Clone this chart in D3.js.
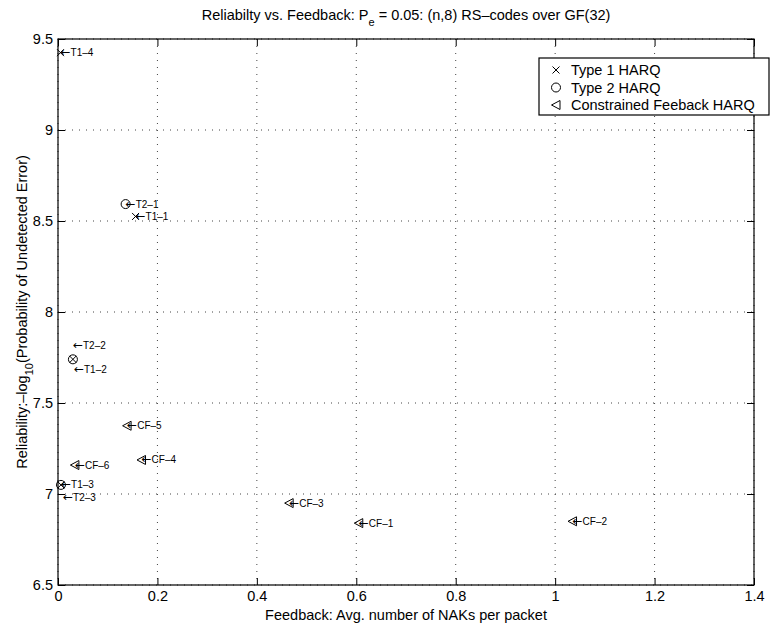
<!DOCTYPE html>
<html>
<head>
<meta charset="utf-8">
<script src="https://cdn.jsdelivr.net/npm/d3@7"></script>
<style>
  body { margin: 0; background: #fff; }
  svg text { font-family: "Liberation Sans", Arial, Helvetica, sans-serif; fill: #000; }
  .grid line { stroke: #444; stroke-dasharray: 1,6; }
  .axis path { display: none; }
  .axis line { stroke: #000; }
</style>
</head>
<body>
<div class="chart"></div>
<script>
// Type 1 HARQ
const t1Names = ["T1-1", "T1-2", "T1-3", "T1-4"];
const t1Feedback = [0.156, 0.030, 0.006, 0.005];
const t1Reliability = [8.525, 7.74, 7.05, 9.425];

// Type 2 HARQ
const t2Names = ["T2-1", "T2-2", "T2-3"];
const t2Feedback = [0.136, 0.030, 0.006];
const t2Reliability = [8.593, 7.74, 7.05];

// Constrained feedback HARQ
const cfNames = ["CF-1", "CF-2", "CF-3", "CF-4", "CF-5", "CF-6"];
const cfFeedback = [0.605, 1.035, 0.465, 0.168, 0.139, 0.034];
const cfReliability = [6.84, 6.85, 6.95, 7.187, 7.375, 7.159];

const xTicks = [0, 0.2, 0.4, 0.6, 0.8, 1, 1.2, 1.4];
const yTicks = [6.5, 7, 7.5, 8, 8.5, 9, 9.5];
const legendLabels = ["Type 1 HARQ", "Type 2 HARQ", "Constrained Feeback HARQ"];

// labels that were moved off their point (pixels)
const labelShift = {"T2-2": [0, -14], "T1-2": [1, 10], "T2-3": [2, 13]};

const margin = ({top: 39, right: 17, bottom: 48, left: 58});
const width = 771 - margin.left - margin.right,
      height = 633 - margin.top - margin.bottom;

const svg = d3.select(".chart")
    .append("svg")
    .attr("width", 771)
    .attr("height", 633);

const g = svg.append("g")
    .attr("transform", "translate(" + margin.left + "," + margin.top + ")");

const xScale = d3.scaleLinear().domain([0, 1.4]).range([0, width]);
const yScale = d3.scaleLinear().domain([6.5, 9.5]).range([height, 0]);

// dotted grid
g.append("g").attr("class", "grid")
    .selectAll("line").data(xTicks).enter().append("line")
    .attr("x1", d => xScale(d)).attr("x2", d => xScale(d))
    .attr("y1", 0).attr("y2", height);
g.append("g").attr("class", "grid")
    .selectAll("line").data(yTicks).enter().append("line")
    .attr("x1", 0).attr("x2", width)
    .attr("y1", d => yScale(d)).attr("y2", d => yScale(d));

// axes, ticks pointing inward on all four sides
const fmt = d => String(d);
g.append("g").attr("class", "axis x-axis")
    .attr("transform", `translate(0, ${height})`)
    .call(d3.axisBottom(xScale).tickValues(xTicks).tickFormat(fmt).tickSize(-7).tickPadding(6))
    .call(a => a.selectAll("text").attr("font-size", 14.5).attr("font-family", null));
g.append("g").attr("class", "axis")
    .call(d3.axisTop(xScale).tickValues(xTicks).tickFormat("").tickSize(-7));
g.append("g").attr("class", "axis y-axis")
    .call(d3.axisLeft(yScale).tickValues(yTicks).tickFormat(fmt).tickSize(-7).tickPadding(5))
    .call(a => a.selectAll("text").attr("font-size", 14.5).attr("font-family", null));
g.append("g").attr("class", "axis")
    .attr("transform", `translate(${width}, 0)`)
    .call(d3.axisRight(yScale).tickValues(yTicks).tickFormat("").tickSize(-7));

g.append("rect")
    .attr("width", width).attr("height", height)
    .attr("fill", "none").attr("stroke", "#000").attr("stroke-width", 1.2);

// markers
const markerPath = {
  x: "M-3.5,-3.5L3.5,3.5M-3.5,3.5L3.5,-3.5",
  o: "M4.5,0A4.5,4.5 0 1,1 -4.5,0A4.5,4.5 0 1,1 4.5,0Z",
  tri: "M-4.5,0L4,-4.5L4,4.5Z"
};

const series = [
  {key: "x", names: t1Names, xs: t1Feedback, ys: t1Reliability},
  {key: "o", names: t2Names, xs: t2Feedback, ys: t2Reliability},
  {key: "tri", names: cfNames, xs: cfFeedback, ys: cfReliability}
];

series.forEach(s => {
  const pts = s.names.map((n, i) => ({name: n, x: s.xs[i], y: s.ys[i]}));
  g.append("g").selectAll("path").data(pts).enter().append("path")
      .attr("d", markerPath[s.key])
      .attr("transform", d => `translate(${xScale(d.x)},${yScale(d.y)})`)
      .attr("fill", "none").attr("stroke", "#000").attr("stroke-width", 1);
  const lab = g.append("g").selectAll("text").data(pts).enter().append("text")
      .attr("x", d => xScale(d.x) + (labelShift[d.name] ? labelShift[d.name][0] : 0))
      .attr("y", d => yScale(d.y) + (labelShift[d.name] ? labelShift[d.name][1] : 0))
      .attr("dy", "0.35em")
      .attr("font-size", 10);
  lab.append("tspan").attr("font-size", 12).attr("font-family", "DejaVu Sans").text("\u2190");
  lab.append("tspan").text(d => d.name.replace(/-/g, "\u2013"));
});

// title
const title = svg.append("text")
    .attr("x", margin.left + width / 2).attr("y", 20)
    .attr("text-anchor", "middle").attr("font-size", 14.5);
title.append("tspan").text("Reliabilty vs. Feedback: P");
title.append("tspan").attr("font-size", 11).attr("dy", 6).text("e");
title.append("tspan").attr("dy", -6).text(" = 0.05: (n,8) RS\u2013codes over GF(32)");

// axis labels
svg.append("text")
    .attr("x", margin.left + width / 2).attr("y", 620)
    .attr("text-anchor", "middle").attr("font-size", 14.5)
    .text("Feedback: Avg. number of NAKs per packet");

const ylab = svg.append("text")
    .attr("transform", `translate(27, ${margin.top + height / 2}) rotate(-90)`)
    .attr("text-anchor", "middle").attr("font-size", 14.5);
ylab.append("tspan").text("Reliability:\u2013log");
ylab.append("tspan").attr("font-size", 11).attr("dy", 6).text("10");
ylab.append("tspan").attr("dy", -6).text("(Probability of Undetected Error)");

// legend
const legend = svg.append("g").attr("transform", "translate(539, 58)");
legend.append("rect")
    .attr("width", 230).attr("height", 57)
    .attr("fill", "#fff").attr("stroke", "#000").attr("stroke-width", 1.2);
const lkeys = ["x", "o", "tri"];
legend.selectAll(".legend-mark")
    .data(legendLabels).enter().append("path")
    .attr("d", (d, i) => markerPath[lkeys[i]])
    .attr("transform", (d, i) => `translate(17, ${12 + i * 17.5})`)
    .attr("fill", "none").attr("stroke", "#000");
legend.selectAll(".legend-text")
    .data(legendLabels).enter().append("text")
    .attr("x", 32)
    .attr("y", (d, i) => 12 + i * 17.5)
    .attr("dy", "0.35em")
    .attr("font-size", 14.5)
    .text(d => d);
</script>
</body>
</html>
